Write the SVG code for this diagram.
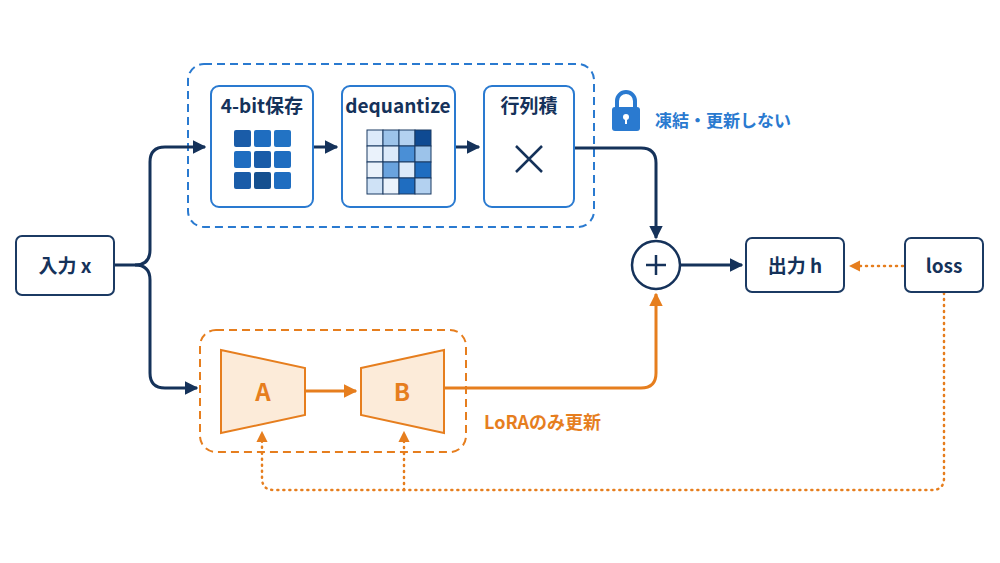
<svg xmlns="http://www.w3.org/2000/svg" width="1000" height="563" viewBox="0 0 1000 563">
<style>
text{font-family:"Noto Sans CJK JP","Noto Sans",sans-serif;font-weight:bold}
.nb{fill:#fff;stroke:#1b3a63;stroke-width:2}
.bb{fill:#fff;stroke:#2a7ad0;stroke-width:2}
.t{fill:#15325a;font-size:19px;text-anchor:middle}
.o{fill:#fcebd9;stroke:#e67e1e;stroke-width:2}
.ot{fill:#e67e1e;font-size:24px;text-anchor:middle}
.ln{fill:none;stroke:#15325a;stroke-width:3}
.ol{fill:none;stroke:#e67e1e;stroke-width:3}
.dt{fill:none;stroke:#e67e1e;stroke-width:2.5;stroke-dasharray:1 5;stroke-linecap:round}
</style>
<defs>
<marker id="an" viewBox="0 0 10 10" refX="9" refY="5" markerWidth="4.5" markerHeight="4.5" orient="auto"><path d="M0,0L10,5L0,10z" fill="#15325a"/></marker>
<marker id="ao" viewBox="0 0 10 10" refX="9" refY="5" markerWidth="4.5" markerHeight="4.5" orient="auto"><path d="M0,0L10,5L0,10z" fill="#e67e1e"/></marker>
<marker id="ad" viewBox="0 0 10 10" refX="9" refY="5" markerWidth="4.5" markerHeight="4.5" orient="auto"><path d="M0,0L10,5L0,10z" fill="#e67e1e"/></marker>
</defs>
<rect width="1000" height="563" fill="#fff"/>
<g id="frozen-group"><rect x="188" y="64" width="406" height="163" rx="16" fill="none" stroke="#2a7ad0" stroke-width="2" stroke-dasharray="8 5"/></g>
<g id="lora-group"><rect x="200" y="330" width="266" height="122" rx="16" fill="none" stroke="#e67e1e" stroke-width="2" stroke-dasharray="8 5"/>
<text x="484" y="429" font-size="18" fill="#e67e1e">LoRAのみ更新</text></g>
<g id="connectors">
<path class="ln" d="M114,265H135Q150,265 150,250V162Q150,147 165,147H205" marker-end="url(#an)"/>
<path class="ln" d="M135,265Q150,265 150,280V373Q150,388 165,388H197" marker-end="url(#an)"/>
<path class="ln" d="M313,147H337" marker-end="url(#an)"/>
<path class="ln" d="M455,147H479" marker-end="url(#an)"/>
<path class="ln" d="M574,148H641Q656,148 656,163V238" marker-end="url(#an)"/>
<path class="ln" d="M680,265H742" marker-end="url(#an)"/>
<path class="ol" d="M305,391H356" marker-end="url(#ao)"/>
<path class="ol" d="M444,388H641Q656,388 656,373V294" marker-end="url(#ao)"/>
<path class="dt" d="M903,266H850" marker-end="url(#ad)"/>
<path class="dt" d="M944,293V478Q944,490 932,490H274Q262,490 262,478V432" marker-end="url(#ad)"/>
<path class="dt" d="M404,490V432" marker-end="url(#ad)"/>
</g>
<g id="input"><rect class="nb" x="16" y="236" width="98" height="59" rx="6"/><text class="t" x="65" y="273">入力 x</text></g>
<g id="store4bit"><rect class="bb" x="211" y="86" width="102" height="121" rx="8"/><text class="t" x="262" y="113" font-size="16">4-bit保存</text>
<g fill="#1a5ca8">
<rect x="234" y="130" width="17" height="17" rx="2"/><rect x="254" y="130" width="17" height="17" rx="2" fill="#1f6dc0"/><rect x="274" y="130" width="17" height="17" rx="2" fill="#2273c4"/>
<rect x="234" y="151" width="17" height="17" rx="2" fill="#1f6dc0"/><rect x="254" y="151" width="17" height="17" rx="2"/><rect x="274" y="151" width="17" height="17" rx="2" fill="#1f6dc0"/>
<rect x="234" y="172" width="17" height="17" rx="2"/><rect x="254" y="172" width="17" height="17" rx="2" fill="#15508f"/><rect x="274" y="172" width="17" height="17" rx="2" fill="#1f6dc0"/>
</g></g>
<g id="dequantize"><rect class="bb" x="342" y="86" width="113" height="121" rx="8"/><text class="t" x="398" y="113" font-size="16">dequantize</text>
<g stroke="#1b3a63" stroke-width="1">
<rect x="367" y="130" width="16" height="16" fill="#dceafa"/><rect x="383" y="130" width="16" height="16" fill="#9cc3ea"/><rect x="399" y="130" width="16" height="16" fill="#b3d1f0"/><rect x="415" y="130" width="16" height="16" fill="#0f4a92"/>
<rect x="367" y="146" width="16" height="16" fill="#eaf2fb"/><rect x="383" y="146" width="16" height="16" fill="#dceafa"/><rect x="399" y="146" width="16" height="16" fill="#4a8fd6"/><rect x="415" y="146" width="16" height="16" fill="#9cc3ea"/>
<rect x="367" y="162" width="16" height="16" fill="#eaf2fb"/><rect x="383" y="162" width="16" height="16" fill="#6aa3de"/><rect x="399" y="162" width="16" height="16" fill="#dceafa"/><rect x="415" y="162" width="16" height="16" fill="#1f6dc0"/>
<rect x="367" y="178" width="16" height="16" fill="#cfe2f6"/><rect x="383" y="178" width="16" height="16" fill="#eaf2fb"/><rect x="399" y="178" width="16" height="16" fill="#1f6dc0"/><rect x="415" y="178" width="16" height="16" fill="#b3d1f0"/>
</g></g>
<g id="matmul"><rect class="bb" x="484" y="86" width="90" height="121" rx="8"/><text class="t" x="529" y="113" font-size="16">行列積</text>
<path d="M516,146L542,172M542,146L516,172" stroke="#15325a" stroke-width="2.5"/></g>
<g id="lock"><path d="M617,108V101a9,9 0 0 1 18,0V108" fill="none" stroke="#2a7ad0" stroke-width="4"/><rect x="612" y="107" width="28" height="24" rx="3" fill="#2a7ad0"/><circle cx="626" cy="117" r="3" fill="#fff"/><rect x="625" y="117" width="2" height="7" fill="#fff"/>
<text x="655" y="127" font-size="17" fill="#2a7ad0">凍結・更新しない</text></g>
<g id="plus"><circle cx="656" cy="265" r="24" fill="#fff" stroke="#15325a" stroke-width="2.5"/><path d="M646,265H666M656,255V275" stroke="#15325a" stroke-width="2.5"/></g>
<g id="output"><rect class="nb" x="746" y="238" width="98" height="54" rx="6"/><text class="t" x="795" y="273">出力 h</text></g>
<g id="loss"><rect class="nb" x="905" y="238" width="78" height="54" rx="6"/><text class="t" x="944" y="273">loss</text></g>
<g id="A"><path class="o" d="M221,350L305,368V415L221,433Z"/><text class="ot" x="263" y="401">A</text></g>
<g id="B"><path class="o" d="M361,368L444,350V433L361,415Z"/><text class="ot" x="402" y="401">B</text></g>
</svg>
